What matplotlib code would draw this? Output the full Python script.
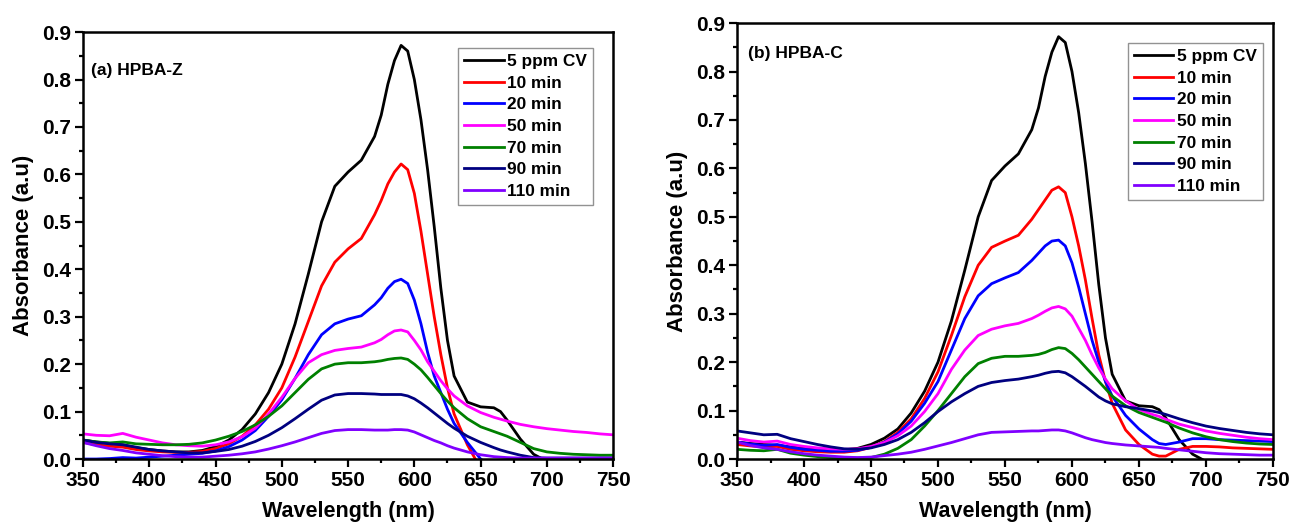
import matplotlib
matplotlib.use('Agg')
import matplotlib.pyplot as plt
from matplotlib.ticker import MultipleLocator

plt.rcParams['font.family'] = ['Liberation Sans', 'DejaVu Sans']
plt.rcParams['font.weight'] = 'bold'

# wavelength grid (nm)
wl = [350, 360, 370, 380, 390, 400, 410, 420, 430, 440, 450, 460, 470, 480, 490,
      500, 510, 520, 530, 540, 550, 560, 570, 575, 580, 585, 590, 595, 600, 605,
      610, 615, 620, 625, 630, 640, 650, 660, 665, 670, 680, 690, 700, 710, 720,
      730, 740, 750]

labels = ['5 ppm CV', '10 min', '20 min', '50 min', '70 min', '90 min', '110 min']
colors = ['#000000', '#ff0000', '#0000ff', '#ff00ff', '#008000', '#000080', '#8000ff']

# (a) HPBA-Z
a_cv = [0.040, 0.036, 0.033, 0.030, 0.024, 0.020, 0.017, 0.015, 0.015, 0.018, 0.026, 0.040, 0.062, 0.095, 0.140,
        0.200, 0.285, 0.390, 0.500, 0.575, 0.605, 0.630, 0.680, 0.725, 0.790, 0.840, 0.872, 0.860, 0.800, 0.715,
        0.610, 0.490, 0.360, 0.250, 0.175, 0.120, 0.110, 0.108, 0.100, 0.082, 0.042, 0.010, -0.005, -0.010, -0.010,
        -0.010, -0.010, -0.010]
a_10 = [0.035, 0.030, 0.027, 0.025, 0.020, 0.017, 0.015, 0.014, 0.014, 0.016, 0.022, 0.032, 0.048, 0.072, 0.105,
        0.150, 0.215, 0.290, 0.365, 0.415, 0.443, 0.465, 0.515, 0.545, 0.580, 0.605, 0.622, 0.610, 0.560, 0.480,
        0.390, 0.300, 0.220, 0.150, 0.095, 0.030, -0.020, -0.030, -0.030, -0.030, -0.030, -0.030, -0.030, -0.030, -0.030,
        -0.030, -0.030, -0.030]
a_20 = [0.000, 0.000, 0.001, 0.003, 0.002, 0.004, 0.006, 0.008, 0.010, 0.012, 0.017, 0.026, 0.040, 0.060, 0.090,
        0.125, 0.170, 0.220, 0.262, 0.285, 0.295, 0.302, 0.325, 0.340, 0.360, 0.374, 0.379, 0.370, 0.335, 0.285,
        0.225, 0.175, 0.140, 0.105, 0.075, 0.035, 0.000, -0.020, -0.020, -0.020, -0.020, -0.020, -0.020, -0.020, -0.020,
        -0.020, -0.020, -0.020]
a_50 = [0.053, 0.050, 0.049, 0.054, 0.046, 0.040, 0.034, 0.030, 0.028, 0.027, 0.030, 0.036, 0.047, 0.065, 0.095,
        0.130, 0.170, 0.203, 0.220, 0.229, 0.233, 0.236, 0.245, 0.252, 0.262, 0.270, 0.272, 0.268, 0.250, 0.230,
        0.205, 0.185, 0.165, 0.148, 0.133, 0.112, 0.098, 0.088, 0.084, 0.080, 0.073, 0.068, 0.064, 0.061, 0.058,
        0.056, 0.053, 0.051]
a_70 = [0.040, 0.036, 0.034, 0.036, 0.032, 0.031, 0.030, 0.030, 0.031, 0.034, 0.040, 0.048, 0.058, 0.072, 0.090,
        0.112, 0.140, 0.168, 0.190, 0.200, 0.203, 0.203, 0.205, 0.207, 0.210, 0.212, 0.213, 0.210, 0.200, 0.188,
        0.172, 0.155, 0.138, 0.122, 0.108, 0.085, 0.068, 0.058, 0.053, 0.048, 0.035, 0.022, 0.015, 0.012, 0.010,
        0.009, 0.008, 0.008]
a_90 = [0.040, 0.035, 0.032, 0.030, 0.025, 0.020, 0.017, 0.015, 0.013, 0.013, 0.016, 0.020, 0.027, 0.037, 0.050,
        0.066, 0.085, 0.105, 0.124, 0.135, 0.138, 0.138, 0.137, 0.136, 0.136, 0.136, 0.136, 0.133, 0.127, 0.118,
        0.108, 0.097, 0.086, 0.075, 0.065, 0.048, 0.035, 0.024, 0.019, 0.015, 0.008, 0.003, 0.002, 0.002, 0.002,
        0.002, 0.002, 0.002]
a_110 = [0.035, 0.028, 0.022, 0.018, 0.013, 0.010, 0.007, 0.005, 0.004, 0.004, 0.006, 0.008, 0.011, 0.015, 0.021,
         0.028, 0.036, 0.045, 0.054, 0.060, 0.062, 0.062, 0.061, 0.061, 0.061, 0.062, 0.062, 0.061, 0.057, 0.051,
         0.045, 0.039, 0.034, 0.028, 0.023, 0.015, 0.009, 0.005, 0.004, 0.003, 0.002, 0.002, 0.002, 0.002, 0.002,
         0.002, 0.002, 0.002]

# (b) HPBA-C
b_cv = [0.035, 0.032, 0.030, 0.028, 0.025, 0.022, 0.020, 0.019, 0.019, 0.022, 0.030, 0.043, 0.062, 0.095, 0.140,
        0.200, 0.285, 0.390, 0.500, 0.575, 0.605, 0.630, 0.680, 0.725, 0.790, 0.840, 0.872, 0.860, 0.800, 0.715,
        0.610, 0.490, 0.360, 0.250, 0.175, 0.120, 0.110, 0.108, 0.102, 0.085, 0.040, 0.010, -0.005, -0.010, -0.010,
        -0.010, -0.010, -0.010]
b_10 = [0.030, 0.027, 0.025, 0.026, 0.020, 0.017, 0.015, 0.014, 0.014, 0.017, 0.024, 0.036, 0.055, 0.083, 0.125,
        0.180, 0.255, 0.335, 0.400, 0.437, 0.450, 0.462, 0.495, 0.515, 0.535, 0.555, 0.562, 0.550, 0.500, 0.440,
        0.370, 0.290, 0.215, 0.160, 0.115, 0.060, 0.030, 0.010, 0.006, 0.006, 0.020, 0.026, 0.026, 0.025, 0.023,
        0.022, 0.021, 0.020]
b_20 = [0.035, 0.031, 0.028, 0.030, 0.024, 0.020, 0.018, 0.016, 0.016, 0.018, 0.024, 0.035, 0.052, 0.078, 0.115,
        0.160, 0.225, 0.290, 0.337, 0.362, 0.374, 0.385, 0.410, 0.425, 0.440, 0.450, 0.452, 0.440, 0.405, 0.355,
        0.300, 0.245, 0.200, 0.160, 0.130, 0.090, 0.062, 0.040, 0.032, 0.030, 0.035, 0.042, 0.042, 0.040, 0.039,
        0.038, 0.037, 0.036]
b_50 = [0.043, 0.038, 0.035, 0.037, 0.030, 0.026, 0.023, 0.021, 0.020, 0.021, 0.026, 0.034, 0.048, 0.068, 0.098,
        0.135, 0.185, 0.225, 0.255, 0.268, 0.275, 0.280, 0.290, 0.297, 0.305, 0.312, 0.315, 0.310, 0.295, 0.270,
        0.245, 0.215, 0.188, 0.165, 0.145, 0.120, 0.102, 0.092, 0.088, 0.082, 0.072, 0.065, 0.058, 0.053, 0.049,
        0.045, 0.042, 0.040]
b_70 = [0.020, 0.018, 0.017, 0.020, 0.012, 0.008, 0.005, 0.003, 0.002, 0.002, 0.003, 0.010, 0.022, 0.040, 0.068,
        0.100, 0.135, 0.170, 0.197, 0.208, 0.212, 0.212, 0.214, 0.216, 0.220, 0.226, 0.230, 0.228, 0.218, 0.205,
        0.190, 0.175, 0.160, 0.145, 0.130, 0.110, 0.096, 0.086, 0.081, 0.076, 0.064, 0.054, 0.046, 0.040, 0.036,
        0.033, 0.031, 0.030]
b_90 = [0.058, 0.054, 0.050, 0.051, 0.042, 0.036, 0.030, 0.025, 0.021, 0.020, 0.023, 0.030, 0.040, 0.055, 0.075,
        0.098, 0.118, 0.135, 0.150, 0.158, 0.162, 0.165, 0.170, 0.173, 0.177, 0.180, 0.181, 0.178, 0.170, 0.160,
        0.150, 0.139, 0.128, 0.120, 0.114, 0.108, 0.104, 0.099, 0.096, 0.092, 0.083, 0.075, 0.068, 0.063, 0.059,
        0.055, 0.052, 0.050]
b_110 = [0.035, 0.028, 0.023, 0.020, 0.015, 0.011, 0.008, 0.006, 0.004, 0.003, 0.004, 0.007, 0.010, 0.014, 0.020,
         0.027, 0.034, 0.042, 0.050, 0.055, 0.056, 0.057, 0.058, 0.058, 0.059, 0.060, 0.060, 0.058, 0.054, 0.049,
         0.044, 0.040, 0.037, 0.034, 0.032, 0.029, 0.027, 0.025, 0.024, 0.022, 0.019, 0.016, 0.013, 0.011, 0.010,
         0.009, 0.008, 0.008]

panels = [
    ('(a) HPBA-Z', [a_cv, a_10, a_20, a_50, a_70, a_90, a_110]),
    ('(b) HPBA-C', [b_cv, b_10, b_20, b_50, b_70, b_90, b_110]),
]

fig = plt.figure(figsize=(12.93, 5.29), dpi=100)
ax_pos = [[0.0642, 0.1323, 0.410, 0.807], [0.570, 0.1323, 0.4145, 0.824]]
leg_anchor = [(0.962, 0.9625), (0.981, 0.954)]
txt_pos = [(0.015, 0.911), (0.02, 0.931)]

for i, (title, series) in enumerate(panels):
    ax = fig.add_axes(ax_pos[i])
    for y, c, lab in zip(series, colors, labels):
        ax.plot(wl, y, color=c, lw=2.0, label=lab)
    ax.set_xlim(350, 750)
    ax.set_ylim(0, 0.9)
    ax.xaxis.set_major_locator(MultipleLocator(50))
    ax.xaxis.set_minor_locator(MultipleLocator(25))
    ax.yaxis.set_major_locator(MultipleLocator(0.1))
    ax.yaxis.set_minor_locator(MultipleLocator(0.05))
    ax.yaxis.set_major_formatter(plt.FormatStrFormatter('%.1f'))
    ax.tick_params(which='major', direction='out', length=5.5, width=1.6, labelsize=15, pad=3)
    ax.tick_params(which='minor', direction='out', length=3, width=1.6)
    for sp in ax.spines.values():
        sp.set_linewidth(1.8)
    ax.set_xlabel('Wavelength (nm)', fontsize=15.5, fontweight='bold', labelpad=8)
    ax.set_ylabel('Absorbance (a.u)', fontsize=16, fontweight='bold', labelpad=6)
    ax.text(txt_pos[i][0], txt_pos[i][1], title, transform=ax.transAxes,
            fontsize=12.5, fontweight='bold', va='center', ha='left')
    leg = ax.legend(loc='upper right', bbox_to_anchor=leg_anchor[i], fontsize=12.4,
                    handlelength=2.3, handletextpad=0.2, labelspacing=0.38,
                    fancybox=False, edgecolor='#777777', borderpad=0.35,
                    borderaxespad=0)
    leg.get_frame().set_linewidth(1.0)

fig.savefig('out.png', dpi=100)
